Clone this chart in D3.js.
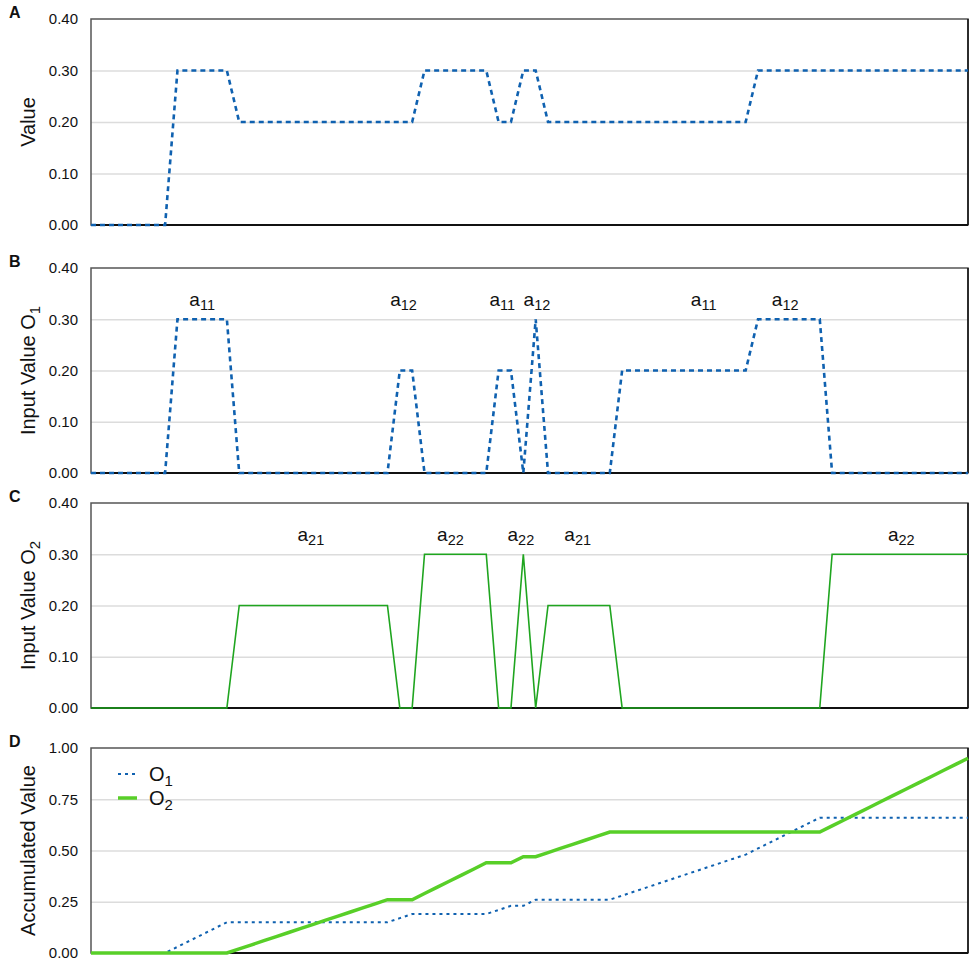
<!DOCTYPE html>
<html>
<head>
<meta charset="utf-8">
<script src="https://cdn.jsdelivr.net/npm/d3@7"></script>
<style>
  body { margin: 0; background: #fff; }
  svg text { font-family: "Liberation Sans", Arial, Helvetica, sans-serif; fill: #111; }
</style>
</head>
<body>
<div class="graph"></div>
<script>
// time steps 0..71
var steps = d3.range(72);

// panel A - value
var valueA = [0,0,0,0,0,0,0, 0.3,0.3,0.3,0.3,0.3,
  0.2,0.2,0.2,0.2,0.2,0.2,0.2,0.2,0.2,0.2,0.2,0.2,0.2,0.2,0.2,
  0.3,0.3,0.3,0.3,0.3,0.3, 0.2,0.2, 0.3,0.3,
  0.2,0.2,0.2,0.2,0.2,0.2,0.2,0.2,0.2,0.2,0.2,0.2,0.2,0.2,0.2,0.2,0.2,
  0.3,0.3,0.3,0.3,0.3,0.3,0.3,0.3,0.3,0.3,0.3,0.3,0.3,0.3,0.3,0.3,0.3,0.3];

// panel B - input O1
var inputO1 = [0,0,0,0,0,0,0, 0.3,0.3,0.3,0.3,0.3,
  0,0,0,0,0,0,0,0,0,0,0,0,0, 0.2,0.2,
  0,0,0,0,0,0, 0.2,0.2, 0, 0.3,
  0,0,0,0,0,0, 0.2,0.2,0.2,0.2,0.2,0.2,0.2,0.2,0.2,0.2,0.2,
  0.3,0.3,0.3,0.3,0.3,0.3, 0,0,0,0,0,0,0,0,0,0,0,0];

// panel C - input O2
var inputO2 = [0,0,0,0,0,0,0,0,0,0,0,0,
  0.2,0.2,0.2,0.2,0.2,0.2,0.2,0.2,0.2,0.2,0.2,0.2,0.2, 0,0,
  0.3,0.3,0.3,0.3,0.3,0.3, 0,0, 0.3, 0,
  0.2,0.2,0.2,0.2,0.2,0.2,
  0,0,0,0,0,0,0,0,0,0,0,0,0,0,0,0,0,
  0.3,0.3,0.3,0.3,0.3,0.3,0.3,0.3,0.3,0.3,0.3,0.3];

// panel D - accumulated
var accO1 = [0,0,0,0,0,0,0, 0.03,0.06,0.09,0.12,0.15,
  0.15,0.15,0.15,0.15,0.15,0.15,0.15,0.15,0.15,0.15,0.15,0.15,0.15, 0.17,0.19,
  0.19,0.19,0.19,0.19,0.19,0.19, 0.21,0.23, 0.23, 0.26,
  0.26,0.26,0.26,0.26,0.26,0.26,
  0.28,0.30,0.32,0.34,0.36,0.38,0.40,0.42,0.44,0.46,0.48,
  0.51,0.54,0.57,0.60,0.63,0.66,
  0.66,0.66,0.66,0.66,0.66,0.66,0.66,0.66,0.66,0.66,0.66,0.66];
var accO2 = [0,0,0,0,0,0,0,0,0,0,0,0,
  0.02,0.04,0.06,0.08,0.10,0.12,0.14,0.16,0.18,0.20,0.22,0.24,0.26, 0.26,0.26,
  0.29,0.32,0.35,0.38,0.41,0.44, 0.44,0.44, 0.47, 0.47,
  0.49,0.51,0.53,0.55,0.57,0.59,
  0.59,0.59,0.59,0.59,0.59,0.59,0.59,0.59,0.59,0.59,0.59,0.59,0.59,0.59,0.59,0.59,0.59,
  0.62,0.65,0.68,0.71,0.74,0.77,0.80,0.83,0.86,0.89,0.92,0.95];

// tick labels
var ticksInput = [0, 0.1, 0.2, 0.3, 0.4];
var ticksAcc = [0, 0.25, 0.5, 0.75, 1];

// annotations (step position, sub index)
var labelsB = [[9.0,'11'],[25.3,'12'],[33.3,'11'],[36.1,'12'],[49.6,'11'],[56.2,'12']];
var labelsC = [[17.8,'21'],[29.1,'22'],[34.8,'22'],[39.4,'21'],[65.6,'22']];
var legendNames = [['O','1'],['O','2']];

var blue = '#0f61b0', green = '#1fa51f', lime = '#58cf28';

var w = 976, h = 969;
var svg = d3.select('div.graph').append('svg').attr('width', w).attr('height', h);

var x = d3.scaleLinear().domain([0, steps.length - 1]).range([91, 968]);

function panel(letter, top, bottom, yTicks, fmt, title, sub){
    var y = d3.scaleLinear().domain([yTicks[0], yTicks[yTicks.length-1]]).range([bottom, top]);
    var g = svg.append('g');

    // grid
    var grid = g.append('g').call(d3.axisLeft(y).tickValues(yTicks.slice(1, -1)).tickSize(-(x.range()[1]-x.range()[0])).tickFormat(''))
        .attr('transform', 'translate(' + x.range()[0] + ',0)');
    grid.select('.domain').remove();
    grid.selectAll('.tick line').attr('stroke', '#dcdcdc').attr('stroke-width', 1.5);

    // frame
    g.append('rect').attr('x', x.range()[0]).attr('y', top)
        .attr('width', x.range()[1]-x.range()[0]).attr('height', bottom-top)
        .attr('fill', 'none').attr('stroke', '#555').attr('stroke-width', 1.5);
    g.append('line').attr('x1', x.range()[0]).attr('x2', x.range()[1]).attr('y1', bottom).attr('y2', bottom)
        .attr('stroke', '#111').attr('stroke-width', 2);
    g.append('line').attr('x1', x.range()[1]).attr('x2', x.range()[1]).attr('y1', top).attr('y2', bottom)
        .attr('stroke', '#111').attr('stroke-width', 1.5);

    // y axis labels
    var ax = g.append('g').attr('transform', 'translate(' + x.range()[0] + ',0)')
        .call(d3.axisLeft(y).tickValues(yTicks).tickSize(0).tickPadding(13).tickFormat(d3.format(fmt)));
    ax.select('.domain').remove();
    ax.selectAll('text').style('font-size', '15px').attr('fill', '#111')
        .style('font-family', '"Liberation Sans", Arial, sans-serif');

    // y title
    var t = g.append('text').attr('transform', 'translate(28,' + ((top+bottom)/2) + ') rotate(-90)')
        .attr('text-anchor', 'middle').attr('dy', '0.35em').style('font-size', '20px').text(title);
    if (sub) t.append('tspan').attr('dy', '5').style('font-size', '15px').text(sub);

    // panel letter
    svg.append('text').attr('x', 9).attr('y', top - 1).style('font-size', '16px')
        .style('font-weight', 'bold').text(letter);
    return {g: g, y: y};
}

function annotate(p, labels, yv){
    labels.forEach(function(d){
        var t = p.g.append('text').attr('x', x(d[0])).attr('y', p.y(yv))
            .attr('text-anchor', 'middle').style('font-size', '19px').text('a');
        t.append('tspan').attr('dy', 4).style('font-size', '14.5px').text(d[1]);
    });
}

var line = function(vals, y){
    return d3.line().x(function(d, i){ return x(steps[i]); }).y(function(d){ return y(d); })(vals);
};

// A
var pA = panel('A', 19, 225, ticksInput, '.2f', 'Value');
pA.g.append('path').attr('d', line(valueA, pA.y)).attr('fill', 'none')
    .attr('stroke', blue).attr('stroke-width', 2.6).attr('stroke-dasharray', '5,4');

// B
var pB = panel('B', 268, 473, ticksInput, '.2f', 'Input Value O', '1');
pB.g.append('path').attr('d', line(inputO1, pB.y)).attr('fill', 'none')
    .attr('stroke', blue).attr('stroke-width', 2.6).attr('stroke-dasharray', '5,4');
annotate(pB, labelsB, 0.325);

// C
var pC = panel('C', 503, 708, ticksInput, '.2f', 'Input Value O', '2');
pC.g.append('path').attr('d', line(inputO2, pC.y)).attr('fill', 'none')
    .attr('stroke', green).attr('stroke-width', 1.6);
annotate(pC, labelsC, 0.325);

// D
var pD = panel('D', 748, 953, ticksAcc, '.2f', 'Accumulated Value');
pD.g.append('path').attr('d', line(accO1, pD.y)).attr('fill', 'none')
    .attr('stroke', blue).attr('stroke-width', 2).attr('stroke-dasharray', '3,4');
pD.g.append('path').attr('d', line(accO2, pD.y)).attr('fill', 'none')
    .attr('stroke', lime).attr('stroke-width', 3.5);

// legend
var leg = pD.g.append('g').attr('transform', 'translate(118,774)');
leg.append('line').attr('x1', 0).attr('x2', 18).attr('y1', 0).attr('y2', 0)
    .attr('stroke', blue).attr('stroke-width', 2).attr('stroke-dasharray', '3,4');
leg.append('line').attr('x1', 0).attr('x2', 19).attr('y1', 24).attr('y2', 24)
    .attr('stroke', lime).attr('stroke-width', 3.5);
legendNames.forEach(function(d, i){
    var t = leg.append('text').attr('x', 31).attr('y', i*24 + 7).style('font-size', '20px').text(d[0]);
    t.append('tspan').attr('dy', 5).style('font-size', '15px').text(d[1]);
});
</script>
</body>
</html>
